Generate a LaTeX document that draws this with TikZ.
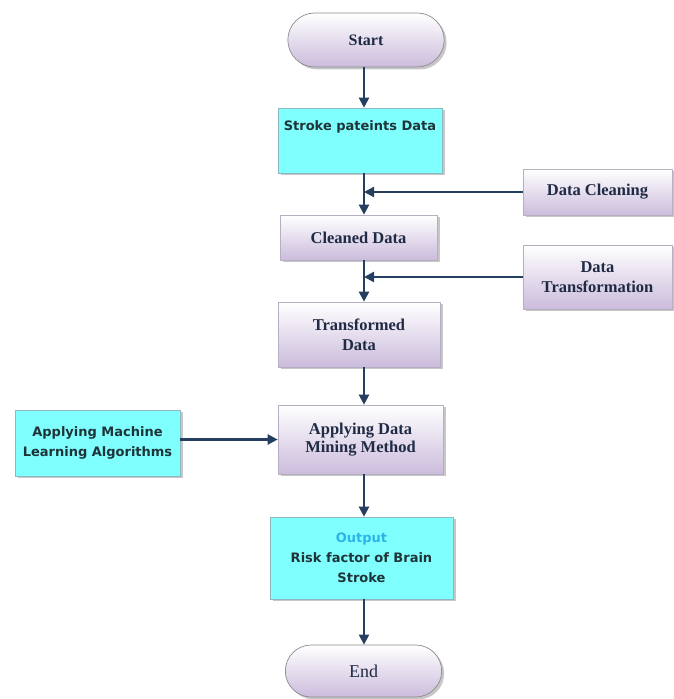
\documentclass[tikz,border=0pt]{standalone}
\usepackage{fontspec}
\setmainfont{Liberation Serif}
\newfontfamily\boxsans{DejaVu Sans}
\usetikzlibrary{shadows,arrows.meta,shapes.misc}
\definecolor{navy}{HTML}{243F60}
\definecolor{lav}{HTML}{CBBCDC}
\definecolor{lavline}{HTML}{B4B0C2}
\definecolor{cyanfill}{HTML}{80FFFF}
\definecolor{cyanline}{HTML}{8CB8C0}
\definecolor{txtnavy}{HTML}{1F2A44}
\definecolor{txtteal}{HTML}{1E3438}
\definecolor{outblue}{HTML}{2CB4E8}
\tikzset{
  x=1pt,y=1pt,
  shad/.style={drop shadow={shadow xshift=2.5pt,shadow yshift=-2.5pt,fill=black!40,opacity=0.55}},
  lavbox/.style={shad,draw=lavline,line width=0.6pt,top color=white,bottom color=lav,
    align=center,inner sep=2pt,text=txtnavy,
    font=\fontsize{16.5}{18}\selectfont\bfseries},
  cyanbox/.style={shad,draw=cyanline,line width=0.6pt,fill=cyanfill,
    align=center,inner sep=2pt,text=txtteal,
    font=\boxsans\fontsize{13}{20}\selectfont\bfseries},
  pill/.style={shad,draw=black!45,line width=0.7pt,top color=white,bottom color=lav,
    rounded rectangle,text=txtnavy},
  arr/.style={draw=navy,line width=2.2pt,-{Triangle[length=10pt,width=10pt]}},
}
\begin{document}
\begin{tikzpicture}
\useasboundingbox (0,0) rectangle (674,699);
\coordinate (sp) at (364,0);
\node[pill,minimum width=163,minimum height=54,font=\fontsize{16}{18}\selectfont\bfseries] (start) at (366,659) {Start};
\node[cyanbox,minimum width=164,minimum height=65,text height=10pt,text depth=30pt] (stroke) at (360,558.5) {Stroke pateints Data};
\node[lavbox,minimum width=157,minimum height=45] (cleaned) at (358.5,461.5) {Cleaned Data};
\node[lavbox,minimum width=149,minimum height=46] (dclean) at (597.5,507) {Data Cleaning};
\node[lavbox,minimum width=149,minimum height=64,font=\fontsize{16.5}{20}\selectfont\bfseries] (dtrans) at (597.5,422) {Data\\Transformation};
\node[lavbox,minimum width=162,minimum height=65,font=\fontsize{16.5}{20}\selectfont\bfseries] (trans) at (359,364.5) {Transformed\\Data};
\node[lavbox,minimum width=165,minimum height=69] (mining) at (360.5,259.5) {Applying Data\\Mining Method};
\node[cyanbox,minimum width=165,minimum height=66] (ml) at (97.5,256) {Applying Machine\\Learning Algorithms};
\node[cyanbox,minimum width=183,minimum height=82] (output) at (361.5,141) {{\color{outblue}Output}\\Risk factor of Brain\\Stroke};
\node[pill,minimum width=163,minimum height=52,font=\fontsize{18}{20}\selectfont] (end) at (363.5,28) {End};
\draw[arr] (start.south -| sp) -- (stroke.north -| sp);
\draw[arr] (stroke.south -| sp) -- (cleaned.north -| sp);
\draw[arr] (cleaned.south -| sp) -- (trans.north -| sp);
\draw[arr] (trans.south -| sp) -- (mining.north -| sp);
\draw[arr] (mining.south -| sp) -- (output.north -| sp);
\draw[arr] (output.south -| sp) -- (end.north -| sp);
\draw[arr] (dclean.west) -- (dclean.west -| sp);
\draw[arr] (dtrans.west) -- (dtrans.west -| sp);
\draw[arr] (ml.east |- mining.west) -- (mining.west);
\end{tikzpicture}
\end{document}
